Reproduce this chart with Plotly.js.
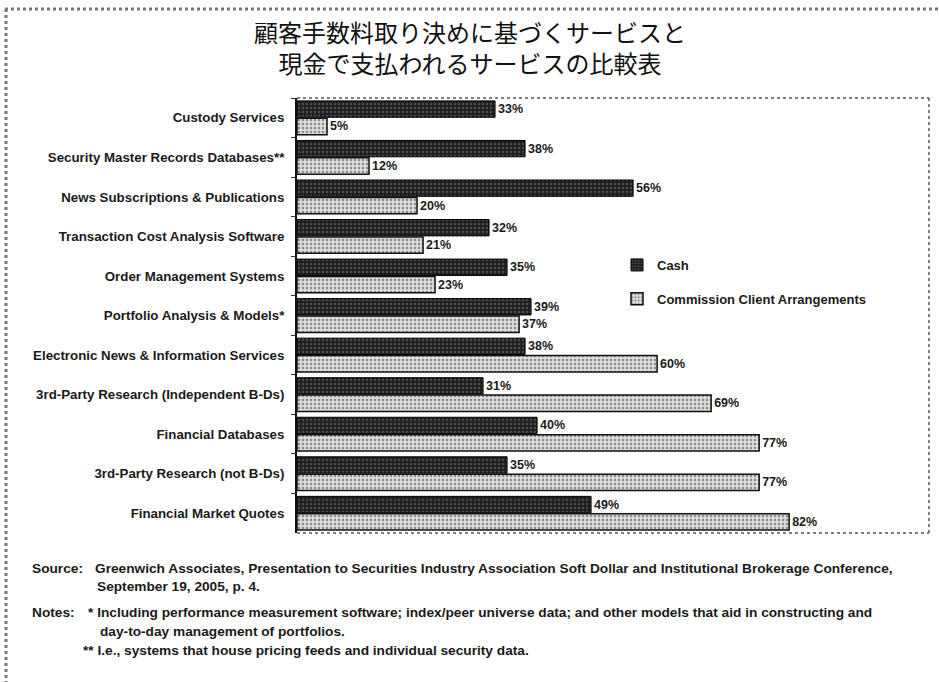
<!DOCTYPE html>
<html>
<head>
<meta charset="utf-8">
<script src="https://cdn.plot.ly/plotly-3.0.1.min.js"></script>
<style>html,body{margin:0;padding:0;background:#fff;}#chart{width:939px;height:682px;}</style>
</head>
<body>
<div id="chart"></div>
<script>
const categories = [
  "Custody Services",
  "Security Master Records Databases**",
  "News Subscriptions & Publications",
  "Transaction Cost Analysis Software",
  "Order Management Systems",
  "Portfolio Analysis & Models*",
  "Electronic News & Information Services",
  "3rd-Party Research (Independent B-Ds)",
  "Financial Databases",
  "3rd-Party Research (not B-Ds)",
  "Financial Market Quotes"
];
const cashValues = [33, 38, 56, 32, 35, 39, 38, 31, 40, 35, 49];
const commissionValues = [5, 12, 20, 21, 23, 37, 60, 69, 77, 77, 82];
const seriesNames = ["Cash", "Commission Client Arrangements"];
const titleText = "顧客手数料取り決めに基づくサービスと<br>現金で支払われるサービスの比較表";
const sourceLabel = "Source:";
const sourceLines = [
  "Greenwich Associates, Presentation to Securities Industry Association Soft Dollar and Institutional Brokerage Conference,",
  "September 19, 2005, p. 4."
];
const notesLabel = "Notes:";
const noteLines = [
  "* Including performance measurement software; index/peer universe data; and other models that aid in constructing and",
  "day-to-day management of portfolios.",
  "** I.e., systems that house pricing feeds and individual security data."
];

const W = 939, H = 682, L = 297, R = 10, T = 98, B = 149;
const pw = W - L - R, ph = H - T - B;
const px = x => (x - L) / pw;
const py = y => (H - B - y) / ph;

const baseFont = "Liberation Sans, Arial, sans-serif";
const txtColor = "#1a1a1a";

const traces = [
  {
    type: "bar", orientation: "h", name: seriesNames[0],
    y: categories, x: cashValues,
    marker: {color: "#262626", line: {color: "#000", width: 1},
             pattern: {shape: ".", fgcolor: "#4a4a4a", bgcolor: "#1e1e1e", size: 4, solidity: 0.3}},
    text: cashValues.map(v => v + "%"), textposition: "outside",
    textfont: {family: baseFont, size: 12.5, color: txtColor, weight: "bold"}, cliponaxis: false,
    legendgroup: "a", hoverinfo: "x+y"
  },
  {
    type: "bar", orientation: "h", name: seriesNames[1],
    y: categories, x: commissionValues,
    marker: {color: "#d4d4d4", line: {color: "#111", width: 1.5},
             pattern: {shape: ".", fgcolor: "#8a8a8a", bgcolor: "#dcdcdc", size: 4, solidity: 0.3}},
    text: commissionValues.map(v => v + "%"), textposition: "outside",
    textfont: {family: baseFont, size: 12.5, color: txtColor, weight: "bold"}, cliponaxis: false,
    legendgroup: "b", hoverinfo: "x+y"
  }
];

const noteFont = {family: baseFont, size: 13.7, color: txtColor, weight: "bold"};
function note(x, y, text) {
  return {xref: "paper", yref: "paper", x: px(x), y: py(y), xanchor: "left", yanchor: "middle",
          text: text, showarrow: false, font: noteFont};
}
const annotations = [
  note(30, 568, sourceLabel),
  note(93, 568, sourceLines[0]),
  note(95, 586, sourceLines[1]),
  note(30, 612, notesLabel),
  note(86, 612, noteLines[0]),
  note(98, 631, noteLines[1]),
  note(81, 650, noteLines[2])
];

const shapes = [
  {type: "line", xref: "paper", yref: "paper", x0: 0, x1: 1, y0: 1, y1: 1, line: {color: "#555", width: 1.5, dash: "dot"}},
  {type: "line", xref: "paper", yref: "paper", x0: 1, x1: 1, y0: 0, y1: 1, line: {color: "#555", width: 1.5, dash: "dot"}},
  {type: "line", xref: "paper", yref: "paper", x0: 0, x1: 1, y0: 0, y1: 0, line: {color: "#555", width: 1.5, dash: "dot"}},
  {type: "line", xref: "paper", yref: "paper", x0: px(5), x1: px(939), y0: py(9), y1: py(9), line: {color: "#777", width: 3, dash: "dot"}},
  {type: "line", xref: "paper", yref: "paper", x0: px(6), x1: px(6), y0: py(9), y1: py(682), line: {color: "#777", width: 3, dash: "dot"}}
];

const layout = {
  width: W, height: H,
  margin: {l: L, r: R, t: T, b: B, pad: 0},
  paper_bgcolor: "#fff", plot_bgcolor: "#fff",
  title: {text: titleText, x: px(470), xref: "paper", xanchor: "center", yref: "container", y: 1 - 42 / H, yanchor: "middle",
          font: {family: "Noto Sans CJK JP, sans-serif", size: 24, color: "#111"}},
  barmode: "group", bargap: 0.12, bargroupgap: 0.06,
  xaxis: {range: [0, 105.3], showticklabels: false, showgrid: false, zeroline: false, ticks: "", showline: false, fixedrange: true},
  yaxis: {autorange: "reversed", showgrid: false, showline: true, linecolor: "#111", linewidth: 2,
          ticks: "outside", ticklen: 4, tickcolor: "#333", tickson: "boundaries",
          tickfont: {family: baseFont, size: 13.3, color: txtColor, weight: "bold"}, ticklabelstandoff: 8, automargin: false},
  showlegend: true,
  legend: {x: px(617), y: py(250), xanchor: "left", yanchor: "top", traceorder: "grouped", tracegroupgap: 14,
           font: {family: baseFont, size: 13, color: txtColor, weight: "bold"}, bgcolor: "rgba(0,0,0,0)", itemwidth: 30},
  annotations: annotations,
  shapes: shapes
};

Plotly.newPlot("chart", traces, layout, {displayModeBar: false, staticPlot: true});
</script>
</body>
</html>
